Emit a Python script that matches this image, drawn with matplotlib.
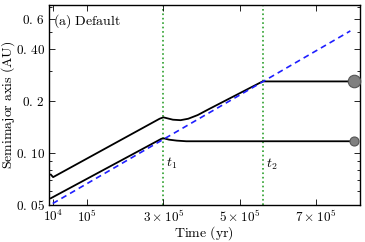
import matplotlib
matplotlib.use("Agg")
import matplotlib.pyplot as plt
from matplotlib.ticker import FixedLocator, NullFormatter

plt.rcParams["mathtext.fontset"] = "cm"
plt.rcParams["font.family"] = "serif"
plt.rcParams["font.serif"] = ["DejaVu Serif"]
plt.rcParams["font.size"] = 9

# blue dashed reference track
t_ref = [1.0e4, 7.9e5]
a_ref = [0.051, 0.51]

# outer planet
t_out = [0.5e4, 1.1e4, 2.9e5, 3.0e5, 3.1e5, 3.25e5, 3.45e5, 3.65e5, 3.9e5, 4.2e5, 5.6e5, 8.0e5]
a_out = [0.075, 0.0725, 0.158, 0.161, 0.159, 0.156, 0.155, 0.158, 0.166, 0.180, 0.26, 0.26]

# inner planet
t_in = [0.5e4, 2.95e5, 3.02e5, 3.15e5, 3.35e5, 3.6e5, 8.0e5]
a_in = [0.0547, 0.121, 0.1215, 0.1195, 0.118, 0.117, 0.117]

t1, t2 = 3.0e5, 5.6e5

xticks = [1e4, 1e5, 3e5, 5e5, 7e5]
xticklabels = [r"$10^4$", r"$10^5$", r"$3\times10^5$", r"$5\times10^5$", r"$7\times10^5$"]
yticks = [0.05, 0.10, 0.2, 0.4, 0.6]
yticklabels = [r"$0.\,05$", r"$0.\,10$", r"$0.\,2$", r"$0.\,40$", r"$0.\,6$"]
yminor = [0.06, 0.07, 0.08, 0.09, 0.3, 0.5, 0.7]

fig = plt.figure(figsize=(3.65, 2.42), dpi=100)
ax = fig.add_axes([0.134, 0.153, 0.852, 0.826])

ax.plot(t_ref, a_ref, ls=(0, (3.5, 2.5)), color="#1f1fff", lw=1.2, zorder=3)
ax.plot(t_out, a_out, color="black", lw=1.3, zorder=2)
ax.plot(t_in, a_in, color="black", lw=1.3, zorder=2)
ax.plot(t_out[-1], a_out[-1], "o", ms=9, mfc="#808080", mec="#555555", mew=0.8, zorder=4, clip_on=False)
ax.plot(t_in[-1], a_in[-1], "o", ms=6.5, mfc="#808080", mec="#555555", mew=0.8, zorder=4, clip_on=False)

for tv in (t1, t2):
    ax.axvline(tv, color="#2ca02c", ls=":", lw=1.2, zorder=1)
ax.text(t1 + 0.08e5, 0.087, r"$t_1$", fontsize=10, va="center")
ax.text(t2 + 0.08e5, 0.086, r"$t_2$", fontsize=10, va="center")

ax.text(0.1e5, 0.585, r"$\mathrm{(a)\ Default}$", fontsize=10, va="center")

ax.set_yscale("log")
ax.set_xlim(0, 8.15e5)
ax.set_ylim(0.05, 0.72)
ax.xaxis.set_major_locator(FixedLocator(xticks))
ax.set_xticklabels(xticklabels)
ax.yaxis.set_major_locator(FixedLocator(yticks))
ax.set_yticklabels(yticklabels)
ax.yaxis.set_minor_locator(FixedLocator(yminor))
ax.yaxis.set_minor_formatter(NullFormatter())
ax.tick_params(which="both", direction="in", top=True, right=True, labelsize=9.5)
ax.tick_params(which="major", length=4, width=0.6, pad=3)
ax.tick_params(which="minor", length=2.5, width=0.6)
for s in ax.spines.values():
    s.set_linewidth(1.0)

ax.set_xlabel(r"$\mathrm{Time\ (yr)}$", fontsize=10)
ax.set_ylabel(r"$\mathrm{Semimajor\ axis\ (AU)}$", fontsize=10)
ax.xaxis.set_label_coords(0.5, -0.095)
ax.yaxis.set_label_coords(-0.102, 0.5)

fig.savefig("out.png", dpi=100)
